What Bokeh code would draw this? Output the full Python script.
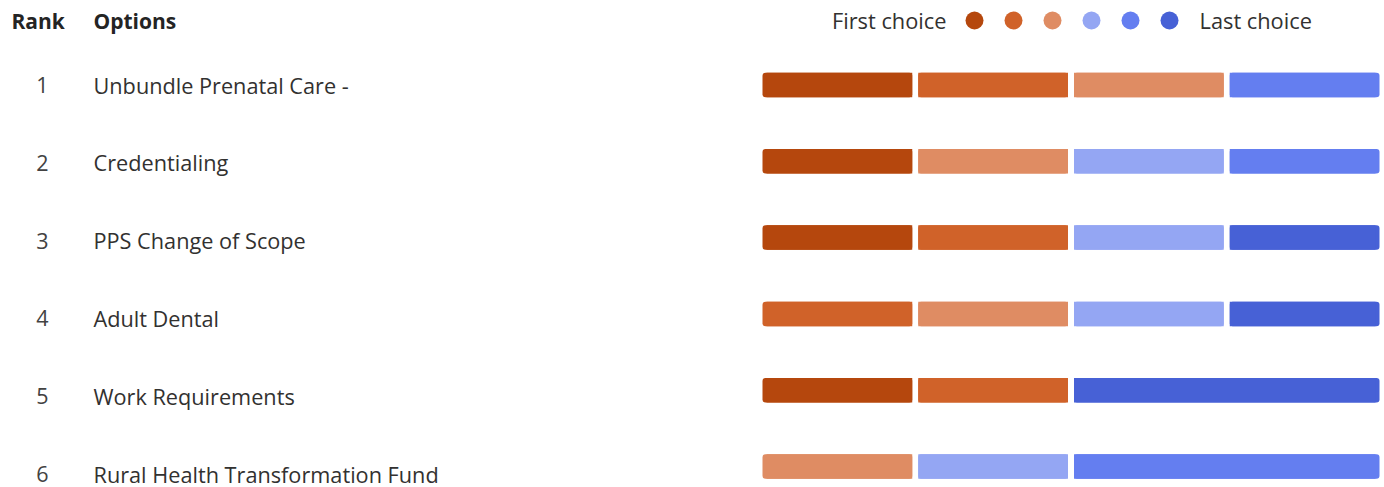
from bokeh.plotting import figure
from bokeh.models import Range1d, ColumnDataSource
from bokeh.core.properties import value
from bokeh.embed import file_html
from bokeh.resources import INLINE

# ---- data ----
ranks = [1, 2, 3, 4, 5, 6]
options = ["Unbundle Prenatal Care -", "Credentialing", "PPS Change of Scope",
           "Adult Dental", "Work Requirements", "Rural Health Transformation Fund"]
# number of respondents placing each option at each position (1st .. 6th choice)
choice1 = [1, 1, 1, 0, 1, 0]
choice2 = [1, 0, 1, 1, 1, 0]
choice3 = [1, 1, 0, 1, 0, 1]
choice4 = [0, 1, 1, 1, 0, 1]
choice5 = [1, 1, 0, 0, 0, 2]
choice6 = [0, 0, 1, 1, 2, 0]
choice_colors = ["#b5470d", "#d06229", "#df8c63", "#94a6f3", "#647ef0", "#4761d6"]
legend_left = "First choice"
legend_right = "Last choice"

# ---- layout (page pixel space) ----
W, H = 1384, 487
FONT = "Open Sans"
text_y0, text_step = 84.5, 77.8
bar_y0, bar_step = 84.5, 76.3
bar_x0, bar_x1, gap, bar_h = 762, 1379, 6, 24.5
rad = 3

p = figure(width=W, height=H, x_range=Range1d(0, W), y_range=Range1d(H, 0),
           output_backend="svg", toolbar_location=None, min_border=0)
p.axis.visible = False
p.grid.visible = False
p.outline_line_color = None
p.background_fill_color = "white"
p.border_fill_color = "white"

tys = [text_y0 + i * text_step for i in range(len(options))]
bys = [bar_y0 + i * bar_step for i in range(len(options))]

# header
hdr_y = 20
p.text(x=[11], y=[hdr_y], text=["Rank"], text_font=value(FONT), text_font_style="bold",
       text_font_size="21px", text_baseline="middle", text_color="#242424")
p.text(x=[93], y=[hdr_y], text=["Options"], text_font=value(FONT), text_font_style="bold",
       text_font_size="21px", text_baseline="middle", text_color="#242424")

# rank numbers and option names
p.text(x=[42] * len(ranks), y=tys, text=[str(r) for r in ranks], text_font=value(FONT),
       text_font_size="21.5px", text_align="center", text_baseline="middle", text_color="#424242")
p.text(x=[93] * len(options), y=tys, text=options, text_font=value(FONT),
       text_font_size="21.7px", text_baseline="middle", text_color="#323130")

# stacked segments
counts = list(zip(choice1, choice2, choice3, choice4, choice5, choice6))
total = sum(counts[0])
unit = (bar_x1 - bar_x0 + gap) / total
L, R, T, B, C = [], [], [], [], []
SL, SR = [], []  # square-cornered part (inner edges)
for i, row in enumerate(counts):
    cum = 0
    nz = [k for k, c in enumerate(row) if c > 0]
    for k, c in enumerate(row):
        if c == 0:
            continue
        l = bar_x0 + cum * unit
        r = bar_x0 + (cum + c) * unit - gap
        L.append(l)
        R.append(r)
        T.append(bys[i] - bar_h / 2)
        B.append(bys[i] + bar_h / 2)
        C.append(choice_colors[k])
        SL.append(l + (rad + 1 if k == nz[0] else 0))
        SR.append(r - (rad + 1 if k == nz[-1] else 0))
        cum += c
p.quad(left=L, right=R, top=T, bottom=B, fill_color=C, line_color=None, border_radius=rad)
p.quad(left=SL, right=SR, top=T, bottom=B, fill_color=C, line_color=None)

# legend
leg_y = 20
leg_cx = [974 + k * 39 for k in range(len(choice_colors))]
p.scatter(x=leg_cx, y=[leg_y] * len(leg_cx), size=18, fill_color=choice_colors, line_color=None)
p.text(x=[946], y=[leg_y], text=[legend_left], text_font=value(FONT), text_font_size="21.8px",
       text_align="right", text_baseline="middle", text_color="#323130")
p.text(x=[1199], y=[leg_y], text=[legend_right], text_font=value(FONT), text_font_size="21.8px",
       text_align="left", text_baseline="middle", text_color="#323130")

open("out.html", "w").write(file_html(p, INLINE))
